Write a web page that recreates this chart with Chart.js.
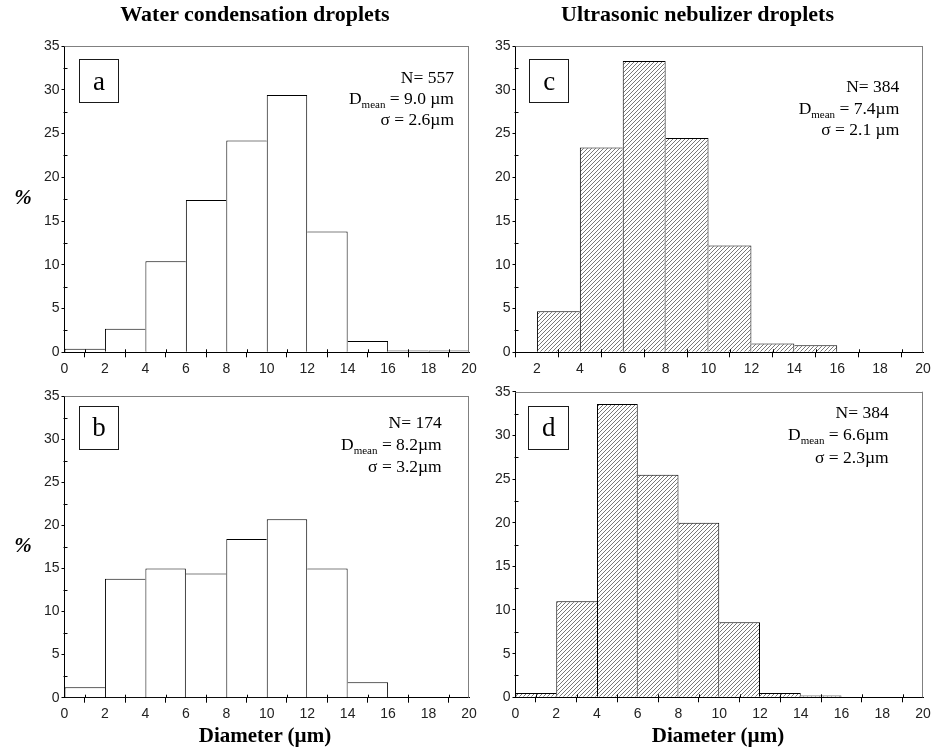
<!DOCTYPE html>
<html><head><meta charset="utf-8">
<script src="https://cdn.jsdelivr.net/npm/chart.js@4/dist/chart.umd.min.js"></script>
<style>
html,body{margin:0;padding:0;background:#fff;}
#wrap{position:relative;width:937px;height:748px;overflow:hidden;background:#fff;}
canvas{position:absolute;left:0;top:0;}
.t{position:absolute;white-space:nowrap;color:#000;font-family:'Liberation Serif','Times New Roman',serif;line-height:1;}
.sub{font-size:11px;position:relative;top:4px;}
.box{position:absolute;box-sizing:border-box;border:1.5px solid #1a1a1a;display:flex;align-items:center;justify-content:center;font-family:'Liberation Serif','Times New Roman',serif;font-size:27px;line-height:1;color:#000;}
</style></head><body>
<div id="wrap">
<canvas id="ca" width="937" height="748"></canvas>
<canvas id="cb" width="937" height="748"></canvas>
<canvas id="cc" width="937" height="748"></canvas>
<canvas id="cd" width="937" height="748"></canvas>
</div>
<script>
// ---- data ----
const binEdges = [0, 2, 4, 6, 8, 10, 12, 14, 16, 18, 20];
const xTickValues = [0, 2, 4, 6, 8, 10, 12, 14, 16, 18, 20];
const xTickValuesC = [2, 4, 6, 8, 10, 12, 14, 16, 18, 20];
const xMinorTicks = [1, 3, 5, 7, 9, 11, 13, 15, 17, 19];
const yTickValues = [0, 5, 10, 15, 20, 25, 30, 35];
const yMinorTicks = [2.5, 7.5, 12.5, 17.5, 22.5, 27.5, 32.5];
// percentages per 2 µm bin
const waterA = [0.4, 2.7, 10.4, 17.4, 24.2, 29.4, 13.8, 1.3, 0.2, 0.2];
const waterB = [1.2, 13.8, 15.0, 14.4, 18.4, 20.7, 15.0, 1.8, null, null];
const nebC = [null, 4.7, 23.4, 33.3, 24.5, 12.2, 1.0, 0.8, null, null];
const nebD = [0.5, 11.0, 33.6, 25.5, 20.0, 8.6, 0.5, 0.2, null, null];

// ---- styling helpers ----
function hatch() {
  const p = document.createElement('canvas');
  p.width = 4; p.height = 4;
  const g = p.getContext('2d');
  g.fillStyle = '#fff'; g.fillRect(0, 0, 4, 4);
  g.strokeStyle = '#555'; g.lineWidth = 0.8;
  g.beginPath();
  g.moveTo(-1, 5); g.lineTo(5, -1);
  g.moveTo(-1, 1); g.lineTo(1, -1);
  g.moveTo(3, 5); g.lineTo(5, 3);
  g.stroke();
  return g.createPattern(p, 'repeat');
}

function edgeWidths(values) {
  return (c) => {
    const i = c.dataIndex;
    const v = values[i] || 0;
    const l = i > 0 ? (values[i - 1] || 0) : 0;
    const r = i < values.length - 1 ? (values[i + 1] || 0) : 0;
    return { top: 1, bottom: 0, left: v >= l ? 1 : 0, right: v > r ? 1 : 0 };
  };
}

const framePlugin = {
  id: 'frame',
  afterDatasetsDraw(chart) {
    const { ctx, chartArea: { left, top, right, bottom } } = chart;
    const xs = chart.scales.x, ys = chart.scales.y;
    ctx.save();
    ctx.lineWidth = 1;
    ctx.strokeStyle = '#808080';
    ctx.beginPath();
    ctx.moveTo(left, Math.round(top) + 0.5); ctx.lineTo(right, Math.round(top) + 0.5);
    ctx.moveTo(Math.round(right) - 0.5, top); ctx.lineTo(Math.round(right) - 0.5, bottom);
    ctx.stroke();
    ctx.strokeStyle = '#000';
    ctx.beginPath();
    xMinorTicks.forEach(v => {
      if (v <= xs.min || v >= xs.max) return;
      const px = Math.round(xs.getPixelForValue(v)) + 0.5;
      ctx.moveTo(px, bottom); ctx.lineTo(px, bottom - 3);
    });
    yMinorTicks.forEach(v => {
      const py = Math.round(ys.getPixelForValue(v)) + 0.5;
      ctx.moveTo(left - 1, py); ctx.lineTo(left + 3, py);
    });
    ctx.stroke();
    ctx.restore();
  }
};

const W = 937, H = 748, WY = 40, HX = 30;
const tickFont = { family: "'Liberation Sans', Arial, sans-serif", size: 14 };
function makeChart(id, values, area, xmin, xticks, fill) {
  const data = values.map((v, i) => ({ x: (binEdges[i] + binEdges[i + 1]) / 2, y: v }));
  return new Chart(document.getElementById(id), {
    type: 'bar',
    data: { datasets: [{
      data,
      backgroundColor: fill,
      borderColor: '#000',
      borderWidth: edgeWidths(values),
      borderSkipped: false,
      barPercentage: 1.0,
      categoryPercentage: 1.0,
      inflateAmount: 0
    }] },
    options: {
      responsive: false, animation: false, devicePixelRatio: 1, events: [],
      layout: { padding: { left: area.L - WY, top: area.T, right: W - area.R, bottom: H - area.B - HX } },
      plugins: { legend: { display: false }, tooltip: { enabled: false }, title: { display: false } },
      scales: {
        x: {
          type: 'linear', min: xmin, max: 20, offset: false,
          afterBuildTicks: s => { s.ticks = xticks.map(v => ({ value: v })); },
          afterFit: s => { s.height = HX; },
          grid: { drawOnChartArea: false, drawTicks: true, tickLength: 5, color: '#000', lineWidth: 1 },
          border: { display: true, color: '#000', width: 1 },
          ticks: { color: '#222', font: tickFont, padding: 3, maxRotation: 0, autoSkip: false, callback: v => String(v) }
        },
        y: {
          type: 'linear', min: 0, max: 35,
          afterBuildTicks: s => { s.ticks = yTickValues.map(v => ({ value: v })); },
          afterFit: s => { s.width = WY; },
          grid: { drawOnChartArea: false, drawTicks: true, tickLength: 3, color: '#000', lineWidth: 1 },
          border: { display: true, color: '#000', width: 1 },
          ticks: { color: '#222', font: tickFont, padding: 2, autoSkip: false, callback: v => String(v) }
        }
      }
    },
    plugins: [framePlugin]
  });
}

const pat = hatch();
makeChart('ca', waterA, { L: 64.5, T: 46, R: 469, B: 352.3 }, 0, xTickValues, '#fff');
makeChart('cb', waterB, { L: 64.5, T: 396, R: 469, B: 697.7 }, 0, xTickValues, '#fff');
makeChart('cc', nebC, { L: 515.5, T: 46, R: 923, B: 352.3 }, 1, xTickValuesC, pat);
makeChart('cd', nebD, { L: 515.5, T: 391.7, R: 923, B: 697.3 }, 0, xTickValues, pat);

// ---- text ----
const wrap = document.getElementById('wrap');
function putText(html, x, baseline, align, fs, extra) {
  const d = document.createElement('div');
  d.className = 't';
  d.innerHTML = html;
  d.style.fontSize = fs + 'px';
  if (extra) d.style.cssText += extra;
  d.style.top = (baseline - 0.8375 * fs) + 'px';
  d.style.width = '600px';
  if (align === 'right') { d.style.left = (x - 600) + 'px'; d.style.textAlign = 'right'; }
  else { d.style.left = (x - 300) + 'px'; d.style.textAlign = 'center'; }
  wrap.appendChild(d);
}
function putBox(letter, x0, y0, x1, y1) {
  const d = document.createElement('div');
  d.className = 'box';
  d.textContent = letter;
  d.style.left = x0 + 'px'; d.style.top = y0 + 'px';
  d.style.width = (x1 - x0) + 'px'; d.style.height = (y1 - y0) + 'px';
  wrap.appendChild(d);
}

putText('Water condensation droplets', 255, 21.5, 'center', 22, 'font-weight:bold;');
putText('Ultrasonic nebulizer droplets', 697.5, 21.5, 'center', 22, 'font-weight:bold;');
putText('%', 23, 205, 'center', 21, 'font-weight:bold;font-style:italic;');
putText('%', 23, 553, 'center', 21, 'font-weight:bold;font-style:italic;');
putText('Diameter (µm)', 265, 742.5, 'center', 21, 'font-weight:bold;');
putText('Diameter (µm)', 718, 742.5, 'center', 21, 'font-weight:bold;');

const FS = 17.5;
putText('N= 557', 454, 83.3, 'right', FS);
putText('D<span class="sub">mean</span> = 9.0 µm', 454, 104.5, 'right', FS);
putText('σ = 2.6µm', 454, 125.7, 'right', FS);

putText('N= 384', 899.3, 92.3, 'right', FS);
putText('D<span class="sub">mean</span> = 7.4µm', 899.3, 114.3, 'right', FS);
putText('σ = 2.1 µm', 899.3, 136, 'right', FS);

putText('N= 174', 441.7, 429, 'right', FS);
putText('D<span class="sub">mean</span> = 8.2µm', 441.7, 451, 'right', FS);
putText('σ = 3.2µm', 441.7, 472.7, 'right', FS);

putText('N= 384', 888.7, 419, 'right', FS);
putText('D<span class="sub">mean</span> = 6.6µm', 888.7, 441, 'right', FS);
putText('σ = 2.3µm', 888.7, 463.3, 'right', FS);

putBox('a', 79, 59.3, 119, 103.3);
putBox('c', 529, 59.3, 569.3, 103.3);
putBox('b', 79, 405.7, 119, 450);
putBox('d', 528.3, 405.7, 569, 450);
</script>
</body></html>
